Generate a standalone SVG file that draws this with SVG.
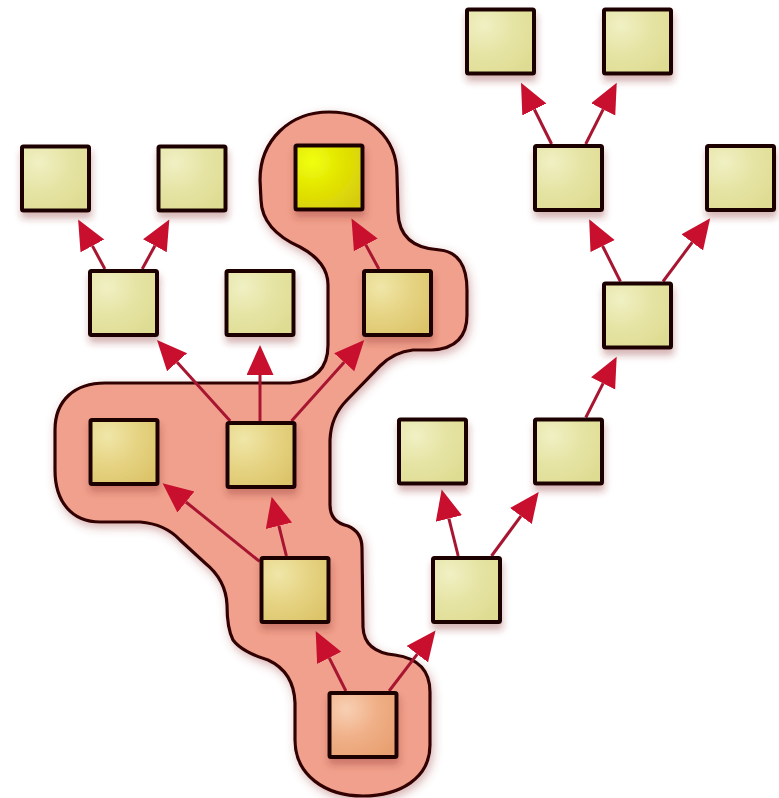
<svg xmlns="http://www.w3.org/2000/svg" width="779" height="798" viewBox="0 0 779 798">
<defs>
<style>
.node rect{stroke:#1a0404;stroke-width:4;filter:url(#nshadow)}
.plain rect{fill:url(#gPlain)}
.inside rect{fill:url(#gInside)}
.edge{stroke:#a81530;stroke-width:3;fill:none;marker-end:url(#arrow)}
</style>
<radialGradient id="gPlain" cx="0.25" cy="0.25" r="0.9">
<stop offset="0" stop-color="#f0f0c4"/>
<stop offset="0.5" stop-color="#e6e4a4"/>
<stop offset="1" stop-color="#dedc92"/>
</radialGradient>
<radialGradient id="gInside" cx="0.25" cy="0.25" r="0.9">
<stop offset="0" stop-color="#f0e6a8"/>
<stop offset="0.5" stop-color="#e6d484"/>
<stop offset="1" stop-color="#dcc46a"/>
</radialGradient>
<radialGradient id="gRoot" cx="0.25" cy="0.25" r="0.9">
<stop offset="0" stop-color="#f8d0b4"/>
<stop offset="0.5" stop-color="#f0b088"/>
<stop offset="1" stop-color="#e8a070"/>
</radialGradient>
<radialGradient id="gSel" cx="0.25" cy="0.25" r="0.9">
<stop offset="0" stop-color="#f0ff10"/>
<stop offset="0.5" stop-color="#e2e400"/>
<stop offset="1" stop-color="#d6cc10"/>
</radialGradient>
<filter id="nshadow" x="-30%" y="-30%" width="160%" height="170%">
<feGaussianBlur in="SourceAlpha" stdDeviation="3.5"/>
<feOffset dx="1" dy="6" result="b"/>
<feFlood flood-color="#8a2a2a" flood-opacity="0.35"/>
<feComposite in2="b" operator="in"/>
<feMerge><feMergeNode/><feMergeNode in="SourceGraphic"/></feMerge>
</filter>
<filter id="bshadow" x="-20%" y="-20%" width="140%" height="140%">
<feGaussianBlur in="SourceAlpha" stdDeviation="5"/>
<feOffset dx="2" dy="4" result="b"/>
<feFlood flood-color="#a04040" flood-opacity="0.4"/>
<feComposite in2="b" operator="in"/>
<feMerge><feMergeNode/><feMergeNode in="SourceGraphic"/></feMerge>
</filter>
<marker id="arrow" markerUnits="userSpaceOnUse" markerWidth="32" markerHeight="28" refX="0" refY="13.5" orient="auto">
<path d="M0,0 L30,13.5 L0,27 Z" fill="#c8102e"/>
</marker>
</defs>
<rect width="779" height="798" fill="#ffffff"/>
<g id="highlight">
<path filter="url(#bshadow)" fill="#f0a08c" stroke="#300404" stroke-width="3.2" d="M329,112 C370,112 397,138 397,175 L398,212 Q399,248 440,250 C458,252 467,265 467,290 L467,315 Q467,348 432,350 L413,350 Q394,352 380,366 L347,400 Q331,416 330,440 L330,505 Q330,522 348,526 Q362,532 362,548 L363,627 Q364,652 395,655 Q430,660 430,692 L430,745 C430,778 400,796 363,796 C325,796 295,775 295,740 L295,703 Q294,672 268,660 Q242,652 233,640 Q227,628 227,605 Q226,580 205,563 L180,540 Q165,524 140,522 L100,522 C72,522 55,502 55,470 L55,430 C55,400 75,383 105,383 L290,383 Q328,380 328,345 L328,285 Q328,262 300,247 Q262,230 261,200 L260,180 C260,140 290,112 329,112 Z"/>
</g>
<g id="connectors">
<line class="edge" x1="551.6" y1="144" x2="534.4" y2="109.5"/>
<line class="edge" x1="585.7" y1="144" x2="603.2" y2="109.4"/>
<line class="edge" x1="620.4" y1="281.5" x2="602.6" y2="246.0"/>
<line class="edge" x1="663.0" y1="281.5" x2="692.2" y2="242.4"/>
<line class="edge" x1="585.8" y1="417.5" x2="603.1" y2="383.4"/>
<line class="edge" x1="458.2" y1="556" x2="448.9" y2="518.6"/>
<line class="edge" x1="491.5" y1="556" x2="520.9" y2="516.1"/>
<line class="edge" x1="345.9" y1="691" x2="329.2" y2="657.9"/>
<line class="edge" x1="389.1" y1="691" x2="417.3" y2="654.2"/>
<line class="edge" x1="259.5" y1="561.4" x2="185.9" y2="502.0"/>
<line class="edge" x1="286.4" y1="556" x2="278.9" y2="525.8"/>
<line class="edge" x1="230.2" y1="421" x2="177.1" y2="362.2"/>
<line class="edge" x1="260" y1="421" x2="260" y2="375"/>
<line class="edge" x1="291.5" y1="421" x2="344.2" y2="362.3"/>
<line class="edge" x1="378.9" y1="269" x2="365.8" y2="244.9"/>
<line class="edge" x1="104.9" y1="269" x2="92.4" y2="245.9"/>
<line class="edge" x1="142.2" y1="269" x2="154.9" y2="245.8"/>
</g>
<g id="nA" class="node plain"><rect x="467" y="9.5" width="67" height="64" rx="1.5"/></g>
<g id="nB" class="node plain"><rect x="604" y="9.5" width="67" height="64" rx="1.5"/></g>
<g id="nC" class="node plain"><rect x="535" y="146" width="67" height="64" rx="1.5"/></g>
<g id="nD" class="node plain"><rect x="707" y="146" width="67" height="64" rx="1.5"/></g>
<g id="nE" class="node plain"><rect x="22" y="146.5" width="67" height="64" rx="1.5"/></g>
<g id="nF" class="node plain"><rect x="158.5" y="146.5" width="67" height="64" rx="1.5"/></g>
<g id="nG" class="node"><rect x="295.5" y="145.5" width="67" height="64" rx="1.5" fill="url(#gSel)"/></g>
<g id="nH" class="node plain"><rect x="90" y="271" width="67" height="64" rx="1.5"/></g>
<g id="nI" class="node plain"><rect x="226.5" y="271" width="67" height="64" rx="1.5"/></g>
<g id="nJ" class="node inside"><rect x="364" y="271" width="67" height="64" rx="1.5"/></g>
<g id="nK" class="node plain"><rect x="604" y="283.5" width="67" height="64" rx="1.5"/></g>
<g id="nL" class="node inside"><rect x="90.5" y="420" width="67" height="64" rx="1.5"/></g>
<g id="nM" class="node inside"><rect x="227.5" y="423" width="67" height="64" rx="1.5"/></g>
<g id="nN" class="node plain"><rect x="399" y="419.5" width="67" height="64" rx="1.5"/></g>
<g id="nO" class="node plain"><rect x="535" y="419.5" width="67" height="64" rx="1.5"/></g>
<g id="nP" class="node inside"><rect x="261.5" y="558" width="67" height="64" rx="1.5"/></g>
<g id="nQ" class="node plain"><rect x="433" y="558" width="67" height="64" rx="1.5"/></g>
<g id="nR" class="node"><rect x="329.5" y="693" width="67" height="64" rx="1.5" fill="url(#gRoot)"/></g>
</svg>
